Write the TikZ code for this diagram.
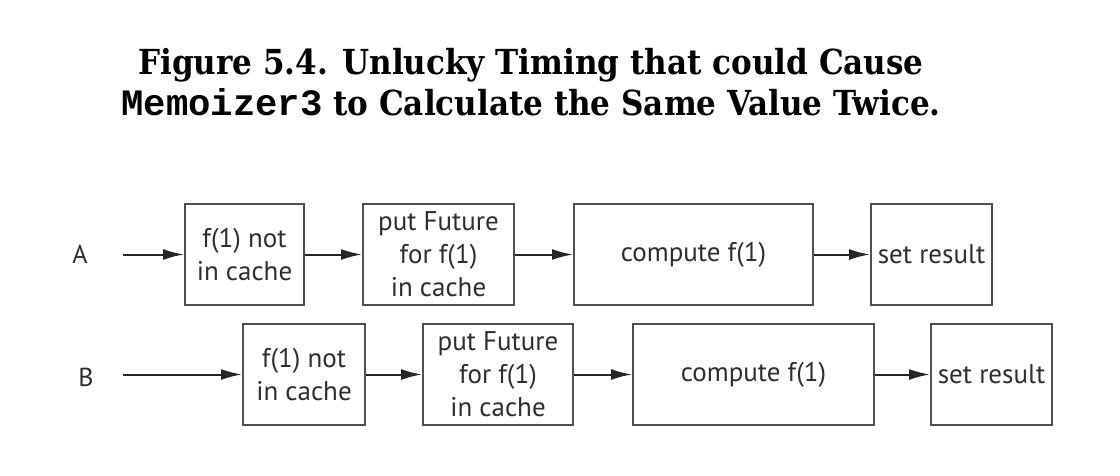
\documentclass[tikz,border=0pt]{standalone}
\usepackage{fontspec}
\setmainfont{DejaVu Serif Condensed}
\setsansfont{PT Sans}
\setmonofont[Scale=1.08]{Liberation Mono}
\usetikzlibrary{arrows.meta}
\definecolor{boxline}{HTML}{505050}
\definecolor{txt}{HTML}{2e2e2e}
\begin{document}
\begin{tikzpicture}[x=1pt,y=-1pt,
  stepbox/.style={draw=boxline,line width=2pt,minimum height=101pt,inner sep=0pt,
     align=center,font=\sffamily\fontsize{27}{33}\selectfont,text=txt},
  conn/.style={line width=2pt,draw=black!85,-{Latex[length=21pt,width=11pt]}},
  lbl/.style={font=\sffamily\fontsize{26}{30}\selectfont,text=txt}]
\useasboundingbox (0,0) rectangle (1120,476);
\node[font=\bfseries\fontsize{34.5}{41}\selectfont,align=center] (title) at (531,82)
  {Figure 5.4. Unlucky Timing that could Cause\\{\ttfamily Memoizer3} to Calculate the Same Value Twice.};
% row A
\node[lbl] (A) at (80,254) {A};
\coordinate (sa) at (123,254.5);
\node[stepbox,minimum width=119pt] (a1) at (244.5,254.5) {f(1) not\\in cache};
\node[stepbox,minimum width=151pt] (a2) at (438.5,254.5) {put Future\\for f(1)\\in cache};
\node[stepbox,minimum width=239pt] (a3) at (693.5,254.5) {compute f(1)};
\node[stepbox,minimum width=121pt] (a4) at (931.5,254.5) {set result};
\draw[conn] (sa) -- (a1);
\draw[conn] (a1) -- (a2);
\draw[conn] (a2) -- (a3);
\draw[conn] (a3) -- (a4);
% row B
\node[lbl] (B) at (86,377) {B};
\coordinate (sb) at (123,374.5);
\node[stepbox,minimum width=122pt] (b1) at (304,374.5) {f(1) not\\in cache};
\node[stepbox,minimum width=150pt] (b2) at (498,374.5) {put Future\\for f(1)\\in cache};
\node[stepbox,minimum width=241pt] (b3) at (753.5,374.5) {compute f(1)};
\node[stepbox,minimum width=121pt] (b4) at (991.5,374.5) {set result};
\draw[conn] (sb) -- (b1);
\draw[conn] (b1) -- (b2);
\draw[conn] (b2) -- (b3);
\draw[conn] (b3) -- (b4);
\end{tikzpicture}
\end{document}
